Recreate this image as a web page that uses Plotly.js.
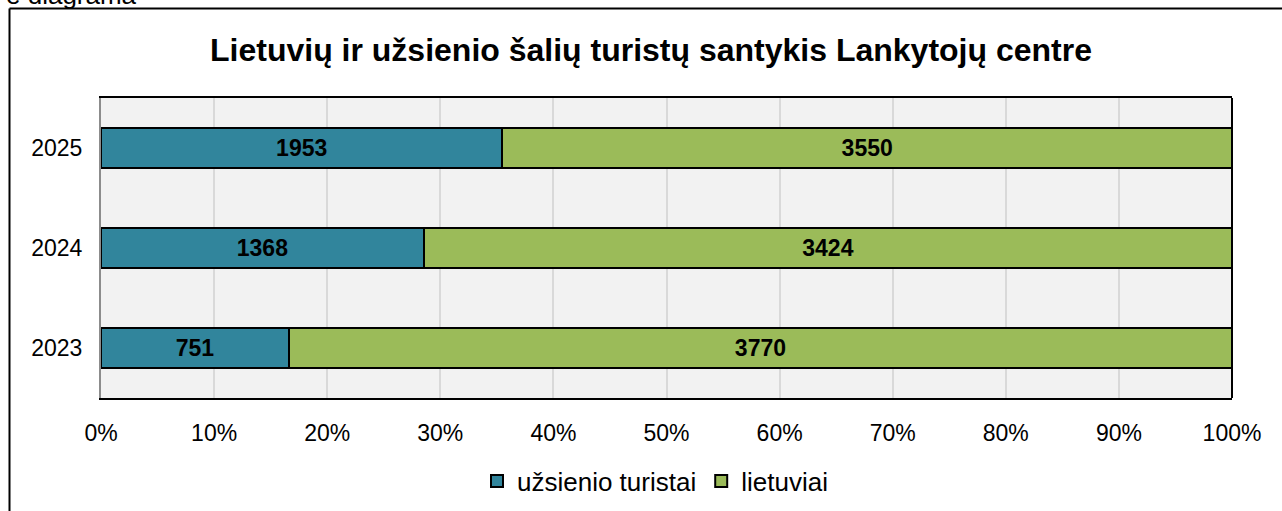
<!DOCTYPE html>
<html>
<head>
<meta charset="utf-8">
<script src="https://cdn.plot.ly/plotly-3.0.1.min.js"></script>
<style>
html,body{margin:0;padding:0;background:#fff;overflow:hidden;}
#chart{width:1282px;height:511px;}
</style>
</head>
<body>
<div id="chart"></div>
<script>
const years = ["2023", "2024", "2025"];
const foreignTourists = [751, 1368, 1953];
const lithuanians = [3770, 3424, 3550];
const seriesNames = ["užsienio turistai", "lietuviai"];
const tickVals = [0, 10, 20, 30, 40, 50, 60, 70, 80, 90, 100];
const tickText = ["0%", "10%", "20%", "30%", "40%", "50%", "60%", "70%", "80%", "90%", "100%"];

const FONT = "Liberation Sans, Arial, sans-serif";
const W = 1282, H = 511;
const L = 101, R = 1232, T = 98, B = 398;
const px2x = p => (p - L) / (R - L);
const px2y = p => (B - p) / (B - T);

const traces = [
  {
    type: "bar", orientation: "h", name: seriesNames[0],
    y: years, x: foreignTourists, text: foreignTourists.map(String),
    textposition: "inside", insidetextanchor: "middle", textangle: 0,
    textfont: {family: FONT, size: 23, color: "#000", weight: "bold"},
    marker: {color: "#31859c", line: {color: "#000", width: 2}},
    width: 0.4, hoverinfo: "none"
  },
  {
    type: "bar", orientation: "h", name: seriesNames[1],
    y: years, x: lithuanians, text: lithuanians.map(String),
    textposition: "inside", insidetextanchor: "middle", textangle: 0,
    textfont: {family: FONT, size: 23, color: "#000", weight: "bold"},
    marker: {color: "#9bbb59", line: {color: "#000", width: 2}},
    width: 0.4, hoverinfo: "none"
  }
];

const layout = {
  width: W, height: H,
  margin: {l: L, r: W - R, t: T, b: H - B, pad: 0, autoexpand: false},
  paper_bgcolor: "#ffffff",
  plot_bgcolor: "#f2f2f2",
  barmode: "stack",
  barnorm: "percent",
  font: {family: FONT, color: "#000"},
  title: {
    text: "Lietuvių ir užsienio šalių turistų santykis Lankytojų centre",
    font: {family: FONT, size: 32, color: "#000", weight: "bold"},
    xref: "container", x: 651 / W, xanchor: "center",
    yref: "container", y: 1 - 50 / H, yanchor: "middle"
  },
  xaxis: {
    range: [0, 100], tickvals: tickVals, ticktext: tickText,
    showgrid: true, gridcolor: "#d9d9d9", gridwidth: 2,
    zeroline: false, showline: true, linecolor: "#000", linewidth: 2, mirror: true,
    ticks: "", ticklen: 0, ticklabelstandoff: 13,
    tickfont: {family: FONT, size: 23, color: "#000"},
    fixedrange: true
  },
  yaxis: {
    type: "category", categoryorder: "array", categoryarray: years,
    range: [-0.5, 2.5],
    showgrid: false, zeroline: false, showline: true, linecolor: "#8c8c8c", linewidth: 2,
    ticks: "outside", ticklen: 12, tickcolor: "rgba(0,0,0,0)",
    tickfont: {family: FONT, size: 23, color: "#000"},
    fixedrange: true
  },
  showlegend: true,
  legend: {
    orientation: "h", x: px2x(655), xanchor: "center",
    yref: "container", y: 1 - 481 / H, yanchor: "middle",
    font: {family: FONT, size: 26, color: "#000"},
    bgcolor: "rgba(0,0,0,0)", itemclick: false, itemdoubleclick: false,
    traceorder: "normal", itemwidth: 20, tracegroupgap: 0
  },
  shapes: [
    {type: "line", xref: "paper", yref: "paper", x0: 1, x1: 1, y0: 0, y1: 1,
     line: {color: "#000", width: 2}},
    {type: "line", xref: "paper", yref: "paper", x0: px2x(9.5), x1: px2x(9.5), y0: px2y(8.5), y1: px2y(520),
     line: {color: "#000", width: 2}},
    {type: "line", xref: "paper", yref: "paper", x0: px2x(9.5), x1: px2x(1300), y0: px2y(8.5), y1: px2y(8.5),
     line: {color: "#000", width: 2}}
  ],
  annotations: [
    {text: "ė diagrama", xref: "paper", yref: "paper", x: px2x(4), y: px2y(12), xanchor: "left", yanchor: "bottom",
     showarrow: false, font: {family: FONT, size: 26, color: "#000"}}
  ]
};

Plotly.newPlot("chart", traces, layout, {displayModeBar: false, staticPlot: true});
</script>
</body>
</html>
